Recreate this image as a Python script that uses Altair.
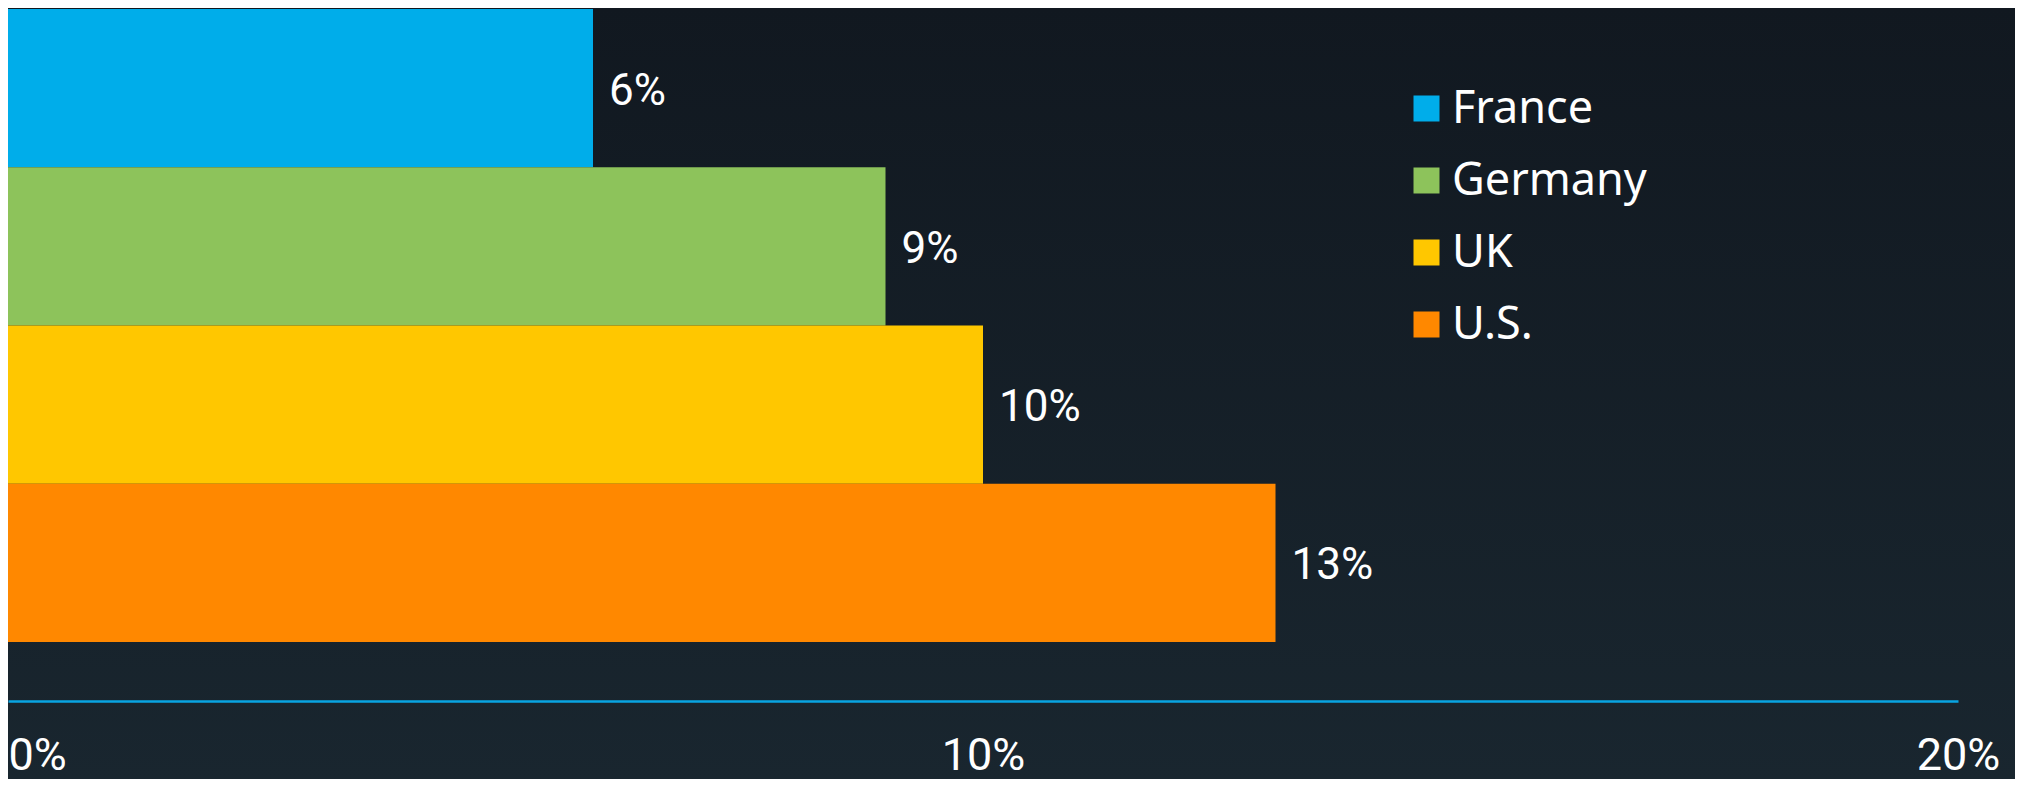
import altair as alt
import pandas as pd

countries = ["France", "Germany", "UK", "U.S."]
values = [6, 9, 10, 13]
colors = ["#00adea", "#8dc35b", "#ffc700", "#ff8800"]
x_ticks = [0, 10, 20]

df = pd.DataFrame({"country": countries, "value": values})

W, H = 1950, 692
PAD = {"left": 0, "top": 1, "right": 57, "bottom": 78}
NUM_FONT = "Roboto"

bg = alt.Chart(pd.DataFrame({"d": [0]})).mark_rect(
    fill=alt.Gradient(
        gradient="linear",
        stops=[alt.GradientStop(color="#111820", offset=0),
               alt.GradientStop(color="#19262f", offset=1)],
        x1=0, x2=0, y1=0, y2=1,
    ),
    strokeWidth=0,
).encode(
    x=alt.value(0), x2=alt.value(W + PAD["right"]),
    y=alt.value(-PAD["top"]), y2=alt.value(H + PAD["bottom"]),
)

yenc = alt.Y("country:N", sort=countries, axis=None,
             scale=alt.Scale(paddingInner=0, paddingOuter=0.186, align=0))
xenc = alt.X("value:Q",
             scale=alt.Scale(domain=[0, 20], nice=False, zero=True),
             axis=alt.Axis(values=x_ticks, labelExpr="datum.value + '%'",
                           title=None, grid=False, ticks=False, tickSize=0,
                           domainColor="#08a4e2", domainWidth=2.5, zindex=1,
                           labelColor="#ffffff", labelFont=NUM_FONT,
                           labelFontSize=45, labelBaseline="alphabetic",
                           labelAlign={"condition": {"test": "datum.value === 0", "value": "left"},
                                       "value": "center"},
                           labelPadding=68, labelFlush=False, labelOverlap=False))

bars = alt.Chart(df).mark_bar(strokeWidth=0).encode(
    x=xenc,
    y=yenc,
    color=alt.Color("country:N", sort=countries,
                    scale=alt.Scale(domain=countries, range=colors),
                    legend=alt.Legend(title=None, orient="none",
                                      legendX=1396, legendY=77,
                                      symbolType="square", symbolSize=676,
                                      symbolStrokeWidth=0, symbolOpacity=1,
                                      labelFont="Noto Sans", labelFontSize=45,
                                      labelColor="#ffffff", labelOffset=3,
                                      labelLimit=0,
                                      rowPadding=26, padding=0)),
)

labels = alt.Chart(df).transform_calculate(
    lbl="datum.value + '%'"
).mark_text(align="left", baseline="alphabetic", dx=16, dy=16.5,
            font=NUM_FONT, fontSize=44, color="#ffffff").encode(
    x=alt.X("value:Q"),
    y=alt.Y("country:N", sort=countries),
    text="lbl:N",
)

chart = alt.layer(bg, bars, labels).properties(
    width=W, height=H,
    autosize=alt.AutoSizeParams(type="none"),
    padding=PAD,
    background="#111820",
).configure_view(stroke=None)

chart.save("out.html", embed_options={"renderer": "svg", "actions": False})
